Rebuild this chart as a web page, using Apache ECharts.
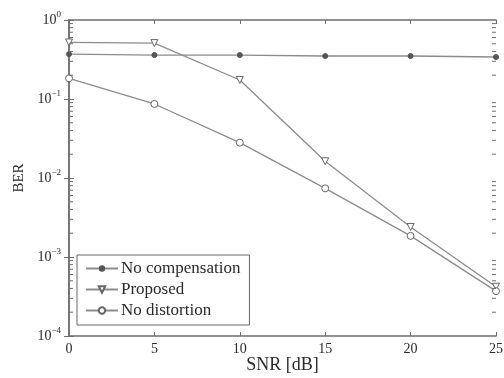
<!DOCTYPE html>
<html><head><meta charset="utf-8">
<script src="https://cdn.jsdelivr.net/npm/echarts@6/dist/echarts.min.js"></script>
<style>html,body{margin:0;padding:0;background:#fff}#c{width:504px;height:378px}</style>
</head><body><div id="c"></div>
<script>
const snr = [0, 5, 10, 15, 20, 25];
const noCompensation = [0.37, 0.36, 0.36, 0.35, 0.35, 0.34];
const proposed = [0.52, 0.51, 0.174, 0.0163, 0.0024, 0.00042];
const noDistortion = [0.183, 0.0865, 0.028, 0.0074, 0.00185, 0.00037];
const xTicks = [0, 5, 10, 15, 20, 25];
const yDecades = [1e-4, 1e-3, 1e-2, 1e-1, 1];

const minorVals = [];
for (let d = -4; d < 0; d++) for (let m = 2; m <= 9; m++) minorVals.push(m * Math.pow(10, d));

const font = 'Liberation Serif';
const lineCol = '#8c8c8c';
const axisCol = '#6e6e6e';
const textCol = '#2a2a2a';
function pair(a, b) { return a.map((v, i) => [b[i], v]); }

const chart = echarts.init(document.getElementById('c'));
chart.setOption({
  animation: false,
  backgroundColor: '#fff',
  grid: { left: 69, right: 8, top: 20, bottom: 42, containLabel: false, outerBoundsMode: 'none' },
  xAxis: [{
    type: 'value', min: 0, max: 25, interval: 5,
    name: 'SNR [dB]', nameLocation: 'middle', nameGap: 20, nameMoveOverlap: false,
    nameTextStyle: { fontFamily: font, fontSize: 18, color: textCol },
    axisLine: { lineStyle: { color: axisCol, width: 1.5 } },
    axisTick: { inside: true, length: 4, lineStyle: { color: axisCol } },
    axisLabel: { fontFamily: font, fontSize: 14, color: textCol, margin: 6 },
    splitLine: { show: false }
  }, {
    type: 'value', position: 'top', min: 0, max: 25, interval: 5,
    axisLine: { lineStyle: { color: axisCol, width: 1.5 } },
    axisTick: { inside: true, length: 4, lineStyle: { color: axisCol } },
    axisLabel: { show: false }, splitLine: { show: false }
  }],
  yAxis: [{
    type: 'log', logBase: 10, min: 1e-4, max: 1,
    name: 'BER', nameLocation: 'middle', nameGap: 42, nameMoveOverlap: false,
    nameTextStyle: { fontFamily: font, fontSize: 15, color: textCol },
    axisLine: { show: true, lineStyle: { color: axisCol, width: 1.5 } },
    axisTick: { inside: true, length: 5, lineStyle: { color: axisCol } },
    axisLabel: {
      margin: 8,
      formatter: v => { const e = Math.round(Math.log10(v)); return '{b|10}{s|' + (e < 0 ? '\u2212' + (-e) : e) + '}'; },
      rich: {
        b: { fontFamily: font, fontSize: 14, color: textCol },
        s: { fontFamily: font, fontSize: 9, color: textCol, verticalAlign: 'bottom', padding: [0, 0, 10, 0] }
      }
    },
    splitLine: { show: false }
  }, {
    type: 'log', logBase: 10, min: 1e-4, max: 1, position: 'right',
    axisLine: { show: true, lineStyle: { color: axisCol, width: 1.5 } },
    axisTick: { inside: true, length: 5, lineStyle: { color: axisCol } },
    axisLabel: { show: false }, splitLine: { show: false }
  }],
  legend: {
    orient: 'vertical', left: 77, top: 255,
    backgroundColor: '#fff', borderColor: '#666', borderWidth: 1,
    padding: [5, 9, 6, 8], itemGap: 4, itemWidth: 32, itemHeight: 8,
    textStyle: { fontFamily: font, fontSize: 17, color: textCol, padding: [0, 0, 0, -2] },
    data: ['No compensation', 'Proposed', 'No distortion']
  },
  series: [{
    name: 'No compensation', type: 'line', data: pair(noCompensation, snr),
    symbol: 'circle', symbolSize: 5,
    lineStyle: { color: lineCol, width: 1.3 },
    itemStyle: { color: '#555', borderColor: '#555' }, z: 3
  }, {
    name: 'Proposed', type: 'line', data: pair(proposed, snr),
    symbol: 'triangle', symbolRotate: 180, symbolSize: 7,
    lineStyle: { color: lineCol, width: 1.3 },
    itemStyle: { color: '#fff', borderColor: '#666', borderWidth: 1 }, z: 3
  }, {
    type: 'custom', silent: true, legendHoverLink: false, z: 4, clip: false,
    data: minorVals.map(v => [0, v]),
    renderItem: (params, api) => {
      const v = api.value(1);
      const l = api.coord([0, v]);
      const r = api.coord([25, v]);
      return { type: 'group', children: [
        { type: 'line', shape: { x1: l[0], y1: l[1], x2: l[0] + 4, y2: l[1] }, style: { stroke: axisCol, lineWidth: 1 } },
        { type: 'line', shape: { x1: r[0], y1: r[1], x2: r[0] - 4, y2: r[1] }, style: { stroke: axisCol, lineWidth: 1 } }
      ] };
    }
  }, {
    name: 'No distortion', type: 'line', data: pair(noDistortion, snr),
    symbol: 'circle', symbolSize: 7,
    lineStyle: { color: lineCol, width: 1.3 },
    itemStyle: { color: '#fff', borderColor: '#666', borderWidth: 1 }, z: 3
  }]
});
</script></body></html>
